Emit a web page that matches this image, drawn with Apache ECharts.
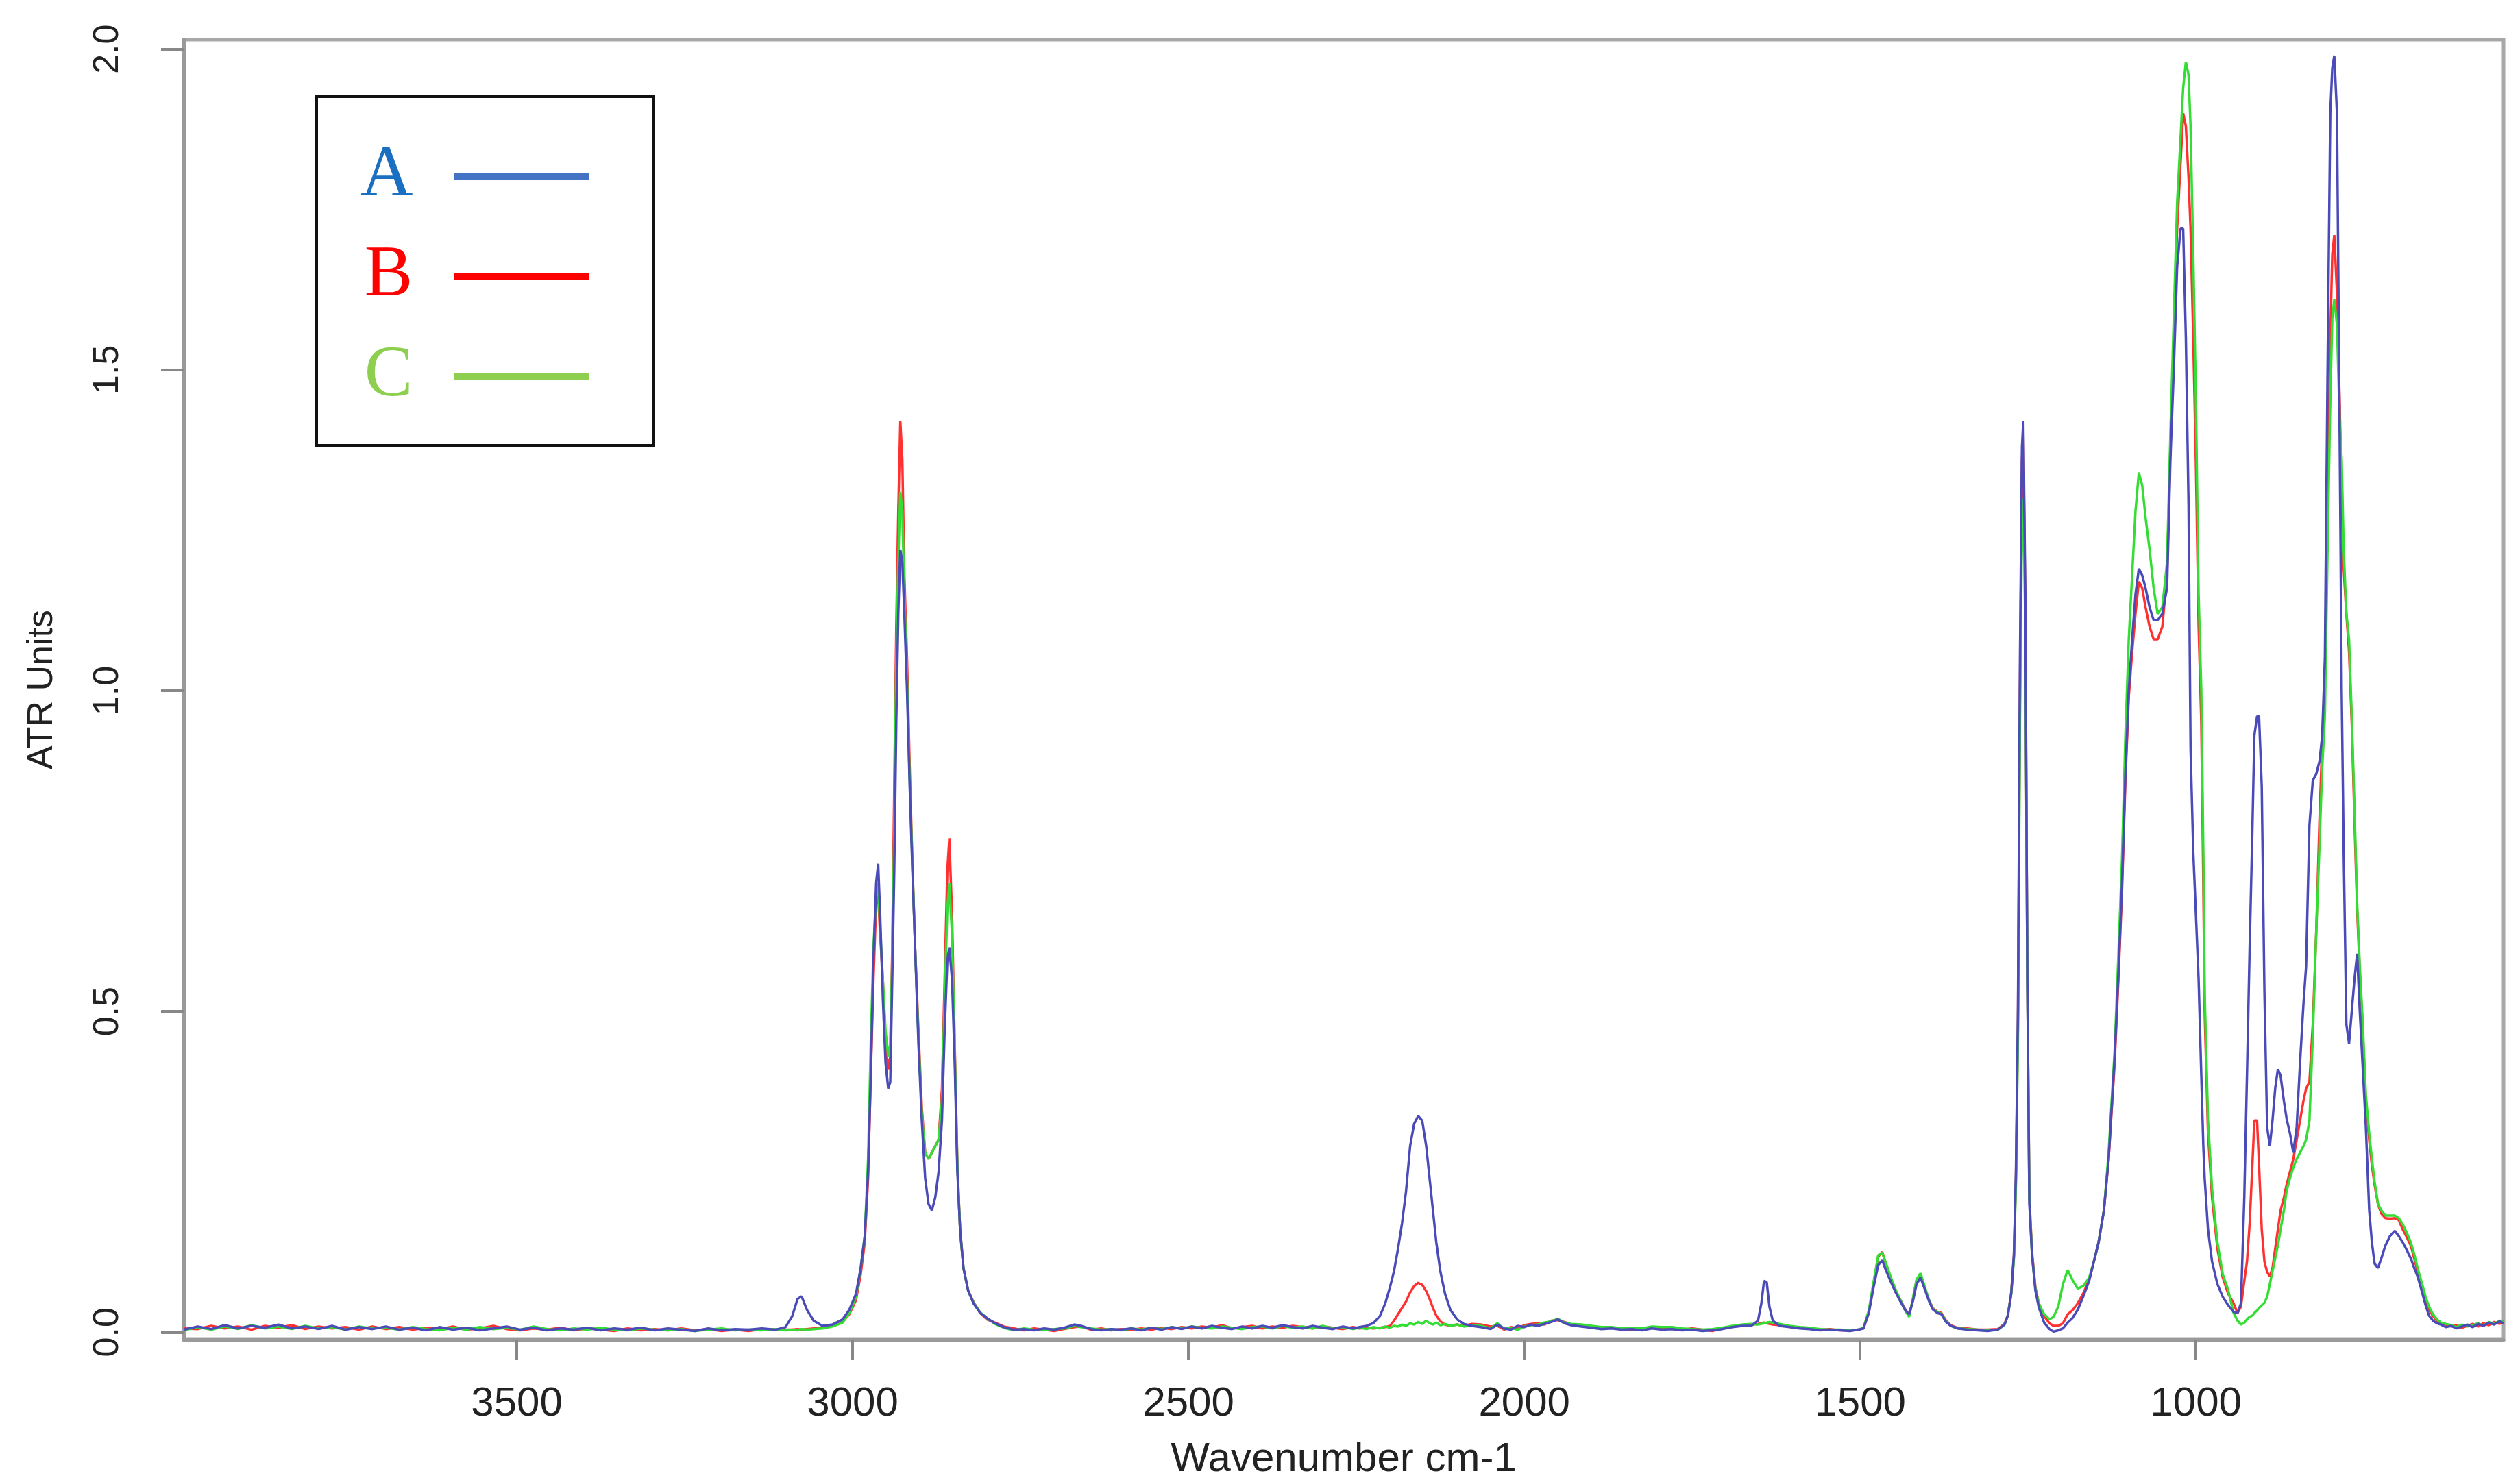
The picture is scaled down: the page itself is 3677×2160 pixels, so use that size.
<!DOCTYPE html>
<html>
<head>
<meta charset="utf-8">
<title>ATR spectra A / B / C</title>
<script src="https://cdn.jsdelivr.net/npm/echarts@6.0.0/dist/echarts.min.js"></script>
<style>
  html, body { margin: 0; padding: 0; background: #fff; }
  #chart { width: 3677px; height: 2160px; }
</style>
</head>
<body>
<div id="chart"></div>
<script>
// wavenumber grid (cm-1), high -> low
const wavenumber = [
  3996, 3975, 3955, 3935, 3915, 3895, 3875, 3855, 3835, 3815,
  3795, 3775, 3755, 3735, 3715, 3695, 3675, 3655, 3635, 3615,
  3595, 3575, 3555, 3535, 3515, 3495, 3475, 3455, 3435, 3415,
  3395, 3375, 3355, 3335, 3315, 3295, 3275, 3255, 3235, 3215,
  3195, 3175, 3155, 3135, 3115,
  3100, 3090, 3082, 3076, 3068, 3058, 3045, 3030, 3015, 3005,
  2995, 2988, 2982, 2977, 2973, 2969, 2965, 2962, 2959, 2955,
  2951, 2947, 2944, 2941, 2938, 2935, 2932, 2929, 2926, 2923,
  2919, 2915, 2911, 2907, 2902, 2897, 2892, 2887, 2882, 2877,
  2872, 2867, 2863, 2859, 2856, 2852, 2848, 2844, 2840, 2835,
  2828, 2820, 2810, 2800, 2788, 2775, 2760,
  2745, 2730, 2715, 2700, 2685, 2670, 2660, 2645, 2630, 2615,
  2600, 2585, 2570, 2555, 2540, 2525, 2510, 2495, 2480, 2465,
  2450, 2435, 2420, 2405, 2390, 2375, 2360, 2345, 2330, 2315,
  2300, 2285, 2270, 2255, 2245, 2235,
  2225, 2215, 2207, 2200, 2194, 2188, 2182, 2176, 2170, 2164,
  2158, 2152, 2146, 2141, 2136, 2131, 2125, 2118, 2110, 2100,
  2090, 2078,
  2065, 2050, 2040, 2030, 2020, 2010, 2000, 1990, 1980, 1970,
  1960, 1950, 1940, 1930, 1915, 1900, 1885, 1870, 1855, 1840,
  1825, 1810, 1795, 1780, 1765, 1750, 1735, 1720, 1705, 1690,
  1675, 1662, 1652,
  1647, 1643, 1639, 1635, 1630, 1620, 1605, 1590, 1575, 1560,
  1545, 1530, 1515, 1503,
  1495, 1487, 1480, 1473, 1467, 1461, 1454, 1447, 1440, 1433,
  1427, 1421, 1416, 1410, 1404, 1398, 1392, 1385, 1379, 1372,
  1365, 1355, 1340, 1325, 1310, 1295,
  1285, 1280, 1275, 1271, 1268, 1265, 1262, 1259, 1257, 1254,
  1251, 1248, 1244, 1239, 1234, 1226, 1218, 1212, 1205, 1198,
  1191, 1184, 1176, 1168, 1159, 1152, 1145, 1137, 1130, 1121,
  1115, 1110, 1105, 1100, 1095, 1090, 1085, 1080, 1075, 1069,
  1063, 1057, 1050, 1043, 1038, 1033, 1028, 1023, 1019, 1015,
  1011, 1008, 1004, 1000, 996, 992, 989, 987, 982, 976,
  968, 960, 952, 944, 938, 933, 928, 924, 920, 916,
  913, 909, 906, 902, 898, 894, 890, 886, 882, 878,
  874, 869, 865, 860, 855, 850, 845, 840, 836, 831,
  826, 821, 816, 812, 808, 804, 800, 797, 794, 790,
  786, 783, 780, 776, 772, 768, 764, 760, 756, 752,
  747, 742, 738, 734, 729, 724, 718, 711, 704, 698,
  692, 686, 680, 675, 670, 664, 658, 653, 647, 641,
  635, 628, 620, 612, 604, 596, 588, 580, 572, 564,
  556, 548, 542
];

// spectrum A (blue)
const unitsA = [
  .004, .009, .005, .011, .006, .010, .007, .012, .006, .009,
  .005, .010, .004, .008, .005, .009, .004, .007, .003, .008,
  .004, .007, .003, .006, .009, .004, .007, .003, .006, .004,
  .007, .003, .006, .004, .007, .003, .006, .004, .002, .006,
  .003, .005, .004, .006, .004,
  .008, .025, .052, .056, .035, .018, .010, .012, .020, .035,
  .060, .10, .15, .25, .40, .58, .70, .73, .65, .52,
  .42, .38, .39, .55, .72, .95, 1.12, 1.22, 1.20, 1.12,
  1.00, .85, .72, .60, .45, .33, .24, .20, .19, .21,
  .25, .33, .47, .58, .60, .55, .42, .25, .16, .10,
  .065, .045, .030, .022, .014, .008, .004,
  .005, .003, .006, .004, .007, .012, .010, .005, .003, .005,
  .004, .006, .003, .007, .004, .008, .005, .009, .006, .010,
  .007, .005, .009, .006, .010, .007, .011, .008, .006, .010,
  .007, .005, .009, .006, .008, .010,
  .014, .025, .045, .070, .095, .13, .17, .22, .29, .325,
  .337, .33, .29, .24, .19, .14, .095, .060, .035, .020,
  .013, .010,
  .008, .005, .012, .006, .004, .010, .008, .012, .010, .013,
  .016, .020, .014, .011, .009, .007, .005, .006, .004, .005,
  .003, .006, .004, .005, .003, .004, .002, .003, .005, .008,
  .010, .010, .018,
  .045, .080, .078, .040, .018, .010, .008, .006, .005, .003,
  .004, .003, .002, .004,
  .006, .030, .070, .105, .112, .095, .078, .062, .048, .035,
  .028, .050, .075, .085, .068, .050, .036, .030, .028, .016,
  .010, .006, .004, .003, .002, .004,
  .012, .026, .060, .121, .25, .50, 1.05, 1.38, 1.42, 1.15,
  .55, .20, .12, .065, .039, .015, .005, .001, .003, .006,
  .015, .022, .035, .055, .080, .11, .14, .19, .27, .43,
  .57, .70, .87, 1.00, 1.08, 1.15, 1.19, 1.18, 1.16, 1.13,
  1.11, 1.11, 1.12, 1.16, 1.36, 1.50, 1.66, 1.72, 1.72, 1.55,
  1.29, .91, .75, .65, .55, .40, .29, .24, .16, .11,
  .075, .055, .042, .032, .030, .045, .21, .40, .60, .78,
  .93, .96, .96, .85, .53, .32, .29, .33, .38, .41,
  .40, .36, .333, .31, .28, .32, .42, .51, .57, .79,
  .86, .87, .89, .93, 1.05, 1.50, 1.90, 1.97, 1.99, 1.90,
  1.40, 1.00, .75, .48, .45, .50, .55, .59, .50, .42,
  .32, .19, .14, .107, .10, .115, .135, .15, .158, .15,
  .14, .128, .115, .10, .087, .065, .042, .026, .018, .014,
  .012, .008, .010, .006, .009, .012, .008, .013, .010, .015,
  .012, .017, .014
];

// spectrum B (red)
const unitsB = [
  .006, .005, .010, .006, .009, .004, .010, .007, .011, .005,
  .009, .006, .008, .004, .009, .005, .008, .004, .007, .005,
  .009, .004, .006, .010, .005, .003, .006, .004, .007, .003,
  .006, .004, .002, .006, .003, .005, .003, .006, .003, .005,
  .002, .004, .002, .005, .004,
  .004, .004, .005, .004, .005, .006, .007, .010, .016, .028,
  .050, .09, .14, .24, .40, .55, .67, .68, .62, .55,
  .45, .41, .43, .60, .85, 1.10, 1.28, 1.42, 1.36, 1.18,
  1.05, .88, .73, .60, .47, .35, .28, .27, .28, .29,
  .30, .38, .55, .72, .77, .65, .45, .26, .16, .10,
  .065, .047, .030, .020, .015, .009, .006,
  .003, .006, .004, .002, .005, .008, .009, .004, .006, .003,
  .005, .004, .006, .004, .007, .005, .008, .006, .009, .007,
  .011, .006, .008, .010, .006, .009, .007, .010, .008, .006,
  .009, .007, .005, .008, .006, .007,
  .006, .007, .008, .010, .018, .028, .038, .048, .062, .072,
  .077, .074, .064, .052, .038, .026, .017, .012, .010, .012,
  .010, .013,
  .012, .009, .010, .004, .008, .006, .011, .013, .014, .012,
  .018, .019, .016, .012, .010, .008, .006, .007, .005, .004,
  .005, .007, .005, .006, .004, .006, .004, .002, .006, .009,
  .011, .012, .013,
  .014, .015, .014, .013, .012, .011, .009, .007, .006, .004,
  .005, .003, .003, .004,
  .006, .032, .075, .118, .125, .105, .083, .065, .050, .036,
  .027, .052, .080, .088, .070, .052, .038, .032, .030, .018,
  .011, .007, .006, .004, .004, .005,
  .013, .027, .062, .12, .24, .48, 1.00, 1.36, 1.40, 1.12,
  .55, .21, .125, .07, .045, .025, .014, .010, .010, .014,
  .028, .034, .045, .060, .082, .11, .14, .19, .27, .42,
  .56, .69, .86, .99, 1.06, 1.12, 1.17, 1.16, 1.13, 1.10,
  1.08, 1.08, 1.10, 1.18, 1.38, 1.55, 1.72, 1.82, 1.90, 1.88,
  1.80, 1.72, 1.55, 1.35, 1.10, .95, .70, .50, .31, .21,
  .13, .085, .060, .045, .030, .040, .08, .11, .17, .26,
  .33, .33, .26, .16, .11, .094, .087, .10, .13, .16,
  .19, .21, .23, .25, .27, .30, .33, .36, .38, .39,
  .48, .62, .80, .92, 1.02, 1.30, 1.55, 1.68, 1.71, 1.62,
  1.45, 1.30, 1.19, 1.12, 1.06, .95, .80, .66, .56, .48,
  .36, .30, .26, .23, .20, .185, .178, .177, .178, .175,
  .16, .148, .135, .115, .095, .07, .05, .035, .025, .018,
  .014, .012, .009, .011, .007, .010, .013, .009, .014, .011,
  .016, .013, .018
];

// spectrum C (green)
const unitsC = [
  .003, .008, .004, .009, .005, .011, .006, .009, .005, .010,
  .006, .008, .004, .009, .006, .007, .004, .008, .005, .003,
  .007, .004, .008, .005, .007, .004, .009, .005, .003, .006,
  .004, .007, .004, .003, .006, .004, .003, .005, .002, .004,
  .006, .003, .004, .003, .005,
  .003, .004, .003, .005, .004, .005, .006, .009, .015, .030,
  .055, .10, .15, .27, .45, .60, .68, .70, .63, .55,
  .47, .43, .45, .58, .78, 1.05, 1.20, 1.31, 1.28, 1.15,
  1.02, .86, .73, .60, .46, .34, .28, .27, .28, .29,
  .30, .36, .52, .66, .70, .62, .44, .26, .16, .10,
  .065, .046, .031, .022, .013, .007, .003,
  .006, .004, .003, .005, .006, .010, .008, .006, .004, .005,
  .003, .006, .004, .007, .005, .008, .006, .009, .007, .006,
  .009, .007, .005, .008, .009, .006, .010, .007, .009, .006,
  .010, .006, .008, .005, .007, .005,
  .008, .006, .009, .007, .010, .009, .012, .010, .014, .012,
  .016, .013, .018, .014, .012, .015, .011, .013, .010, .012,
  .009, .011,
  .010, .006, .014, .005, .007, .004, .009, .011, .012, .015,
  .017, .021, .015, .013, .012, .010, .008, .008, .006, .007,
  .006, .009, .008, .008, .006, .005, .004, .005, .007, .010,
  .012, .013, .012,
  .013, .014, .015, .016, .015, .013, .010, .008, .007, .005,
  .004, .004, .003, .004,
  .007, .034, .078, .120, .124, .106, .085, .066, .050, .034,
  .024, .055, .082, .092, .072, .052, .037, .031, .029, .017,
  .010, .006, .005, .004, .003, .004,
  .012, .026, .060, .115, .23, .46, .95, 1.26, 1.30, 1.10,
  .55, .21, .12, .068, .045, .028, .020, .024, .040, .075,
  .097, .082, .068, .072, .085, .11, .14, .19, .28, .44,
  .60, .74, .93, 1.08, 1.18, 1.28, 1.34, 1.32, 1.27, 1.22,
  1.16, 1.12, 1.13, 1.20, 1.40, 1.58, 1.76, 1.86, 1.94, 1.98,
  1.96, 1.88, 1.68, 1.45, 1.15, 1.00, .75, .53, .33, .224,
  .14, .09, .066, .030, .018, .012, .015, .020, .024, .026,
  .030, .034, .038, .042, .046, .055, .075, .095, .115, .135,
  .16, .19, .22, .24, .257, .27, .28, .29, .30, .33,
  .46, .62, .76, .88, .96, 1.22, 1.45, 1.58, 1.61, 1.57,
  1.42, 1.36, 1.22, 1.12, 1.08, .96, .82, .67, .57, .49,
  .37, .31, .27, .235, .20, .19, .182, .182, .182, .178,
  .168, .155, .14, .122, .10, .078, .055, .04, .028, .02,
  .015, .013, .011, .008, .012, .009, .011, .014, .010, .016,
  .013, .018, .016
];

const xTicks = [3500, 3000, 2500, 2000, 1500, 1000];
const yTicks = [0, 0.5, 1.0, 1.5, 2.0];

const sansFont = 'Liberation Sans, Arial, sans-serif';
const serifFont = 'Liberation Serif, Times New Roman, serif';

function pairs(values) {
  return wavenumber.map((w, i) => [w, values[i]]);
}

const chart = echarts.init(document.getElementById('chart'), null, { renderer: 'canvas' });

const option = {
  animation: false,
  backgroundColor: '#ffffff',
  grid: {
    left: 268,
    right: 24,
    top: 58,
    bottom: 205,
    show: true,
    borderColor: '#a8a8a8',
    borderWidth: 5,
    containLabel: false,
    outerBoundsMode: 'none'
  },
  legend: {
    orient: 'vertical',
    left: 462,
    top: 141,
    align: 'right',
    padding: [63, 94, 48, 64],
    itemGap: 40,
    itemWidth: 197,
    itemHeight: 10,
    icon: 'rect',
    borderColor: '#111111',
    borderWidth: 4,
    backgroundColor: '#ffffff',
    selectedMode: false,
    textStyle: {
      fontFamily: serifFont,
      fontSize: 106,
      lineHeight: 106,
      padding: [0, 55, 0, 0]
    },
    data: [
      { name: 'A', itemStyle: { color: '#4472c4' }, textStyle: { color: '#1a6fc0' } },
      { name: 'B', itemStyle: { color: '#ff0000' }, textStyle: { color: '#ff0000' } },
      { name: 'C', itemStyle: { color: '#8fcf50' }, textStyle: { color: '#8fcf50' } }
    ]
  },
  xAxis: {
    type: 'value',
    min: 542,
    max: 3996,
    inverse: true,
    name: 'Wavenumber cm-1',
    nameLocation: 'middle',
    nameGap: 145,
    nameTextStyle: { fontFamily: sansFont, fontSize: 60, color: '#222' },
    axisLine: { show: true, onZero: false, lineStyle: { color: '#9a9a9a', width: 5 } },
    axisTick: { show: true, length: 30, customValues: xTicks, lineStyle: { color: '#888', width: 4 } },
    axisLabel: {
      customValues: xTicks,
      margin: 64,
      fontFamily: sansFont,
      fontSize: 60,
      color: '#222',
      formatter: v => String(v)
    },
    splitLine: { show: false }
  },
  yAxis: {
    type: 'value',
    min: -0.0114,
    max: 2.0146,
    name: 'ATR Units',
    nameLocation: 'middle',
    nameRotate: 90,
    nameGap: 180,
    nameTextStyle: { fontFamily: sansFont, fontSize: 52, color: '#222' },
    axisLine: { show: true, onZero: false, lineStyle: { color: '#9a9a9a', width: 5 } },
    axisTick: { show: true, length: 33, customValues: yTicks, lineStyle: { color: '#888', width: 4 } },
    axisLabel: {
      customValues: yTicks,
      rotate: 90,
      margin: 84,
      fontFamily: sansFont,
      fontSize: 52,
      color: '#222',
      formatter: v => v.toFixed(1)
    },
    splitLine: { show: false }
  },
  series: [
    {
      name: 'B', type: 'line', data: pairs(unitsB),
      showSymbol: false, symbol: 'none', silent: true,
      itemStyle: { color: '#ff3030' },
      lineStyle: { color: '#ff3030', width: 3.5 }
    },
    {
      name: 'C', type: 'line', data: pairs(unitsC),
      showSymbol: false, symbol: 'none', silent: true,
      itemStyle: { color: '#33dd33' },
      lineStyle: { color: '#33dd33', width: 3.5 }
    },
    {
      name: 'A', type: 'line', data: pairs(unitsA),
      showSymbol: false, symbol: 'none', silent: true,
      itemStyle: { color: '#4a4ab8' },
      lineStyle: { color: '#4a4ab8', width: 3.5 }
    }
  ]
};

if (wavenumber.length !== unitsA.length || wavenumber.length !== unitsB.length || wavenumber.length !== unitsC.length) {
  console.error('length mismatch', wavenumber.length, unitsA.length, unitsB.length, unitsC.length);
}

chart.setOption(option);
</script>
</body>
</html>
